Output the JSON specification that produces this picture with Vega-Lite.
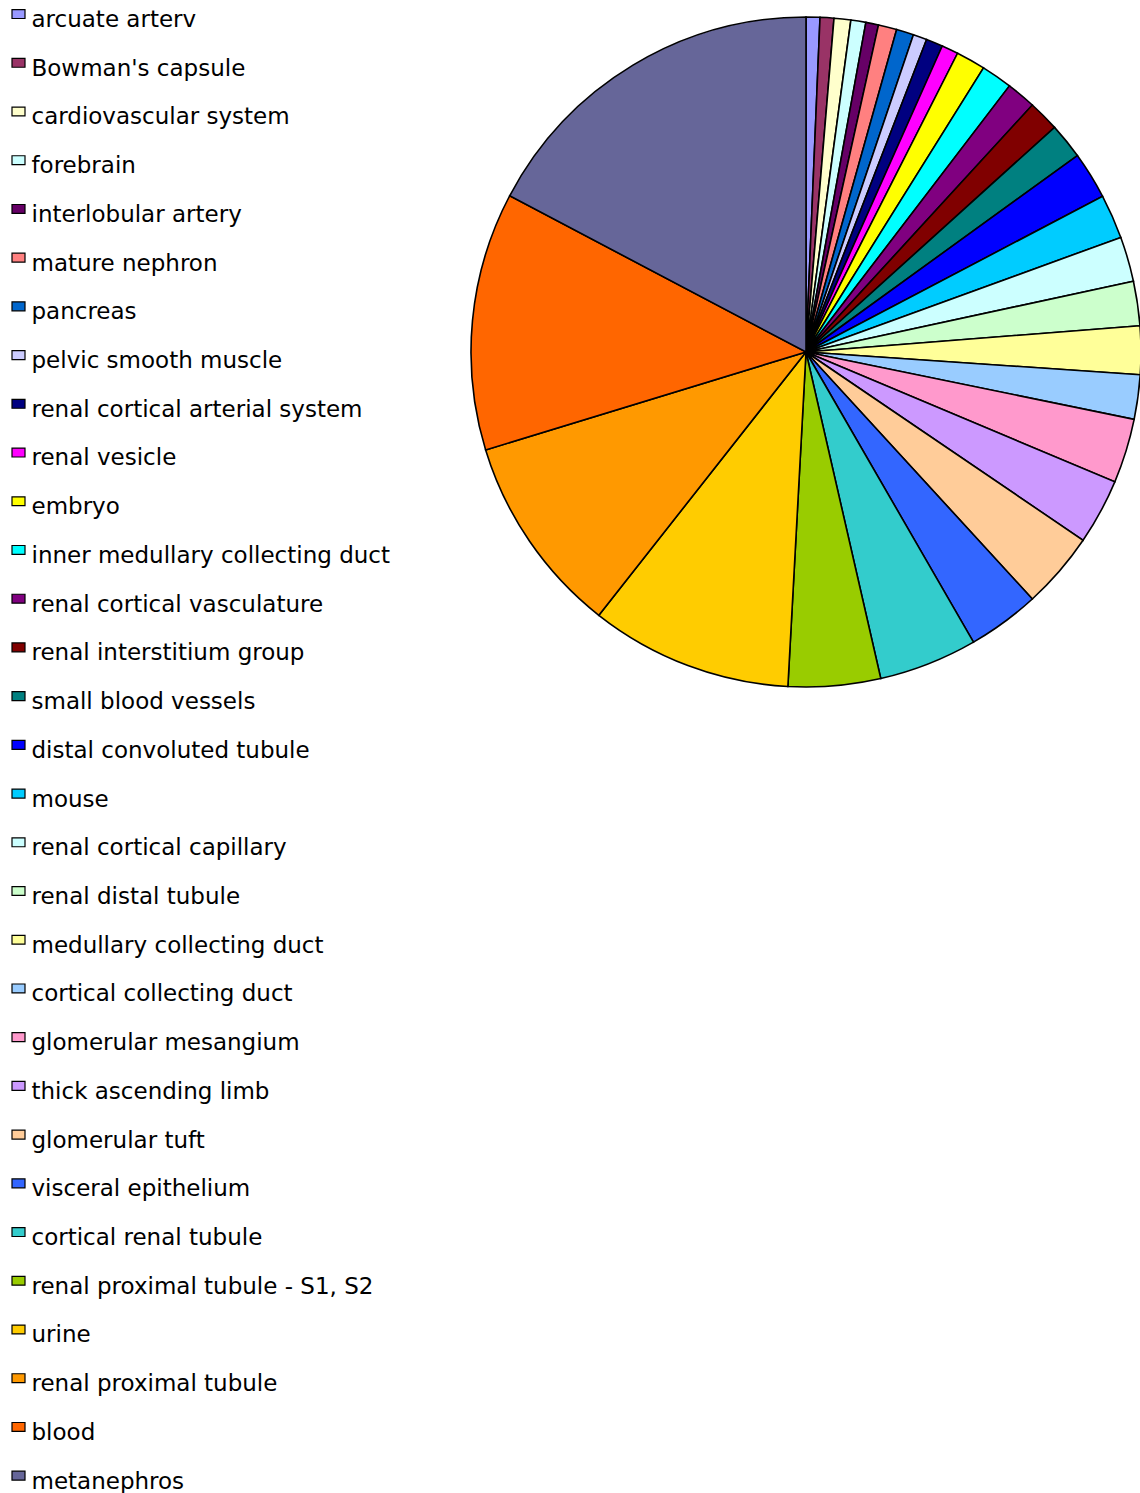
{
  "$schema": "https://vega.github.io/schema/vega-lite/v6.json",
  "width": 670,
  "height": 670,
  "autosize": {"type": "none"},
  "padding": {"left": 471, "top": 17, "right": 0, "bottom": 806},
  "background": "white",
  "view": {"stroke": null},
  "data": {
    "values": [
      {"idx": 1, "name": "arcuate arterv", "value": 2.4},
      {"idx": 2, "name": "Bowman's capsule", "value": 2.4},
      {"idx": 3, "name": "cardiovascular system", "value": 2.9},
      {"idx": 4, "name": "forebrain", "value": 2.6},
      {"idx": 5, "name": "interlobular artery", "value": 2.2},
      {"idx": 6, "name": "mature nephron", "value": 3.2},
      {"idx": 7, "name": "pancreas", "value": 3.0},
      {"idx": 8, "name": "pelvic smooth muscle", "value": 2.4},
      {"idx": 9, "name": "renal cortical arterial system", "value": 2.9},
      {"idx": 10, "name": "renal vesicle", "value": 2.9},
      {"idx": 11, "name": "embryo", "value": 5.1},
      {"idx": 12, "name": "inner medullary collecting duct", "value": 5.4},
      {"idx": 13, "name": "renal cortical vasculature", "value": 5.1},
      {"idx": 14, "name": "renal interstitium group", "value": 5.4},
      {"idx": 15, "name": "small blood vessels", "value": 6.2},
      {"idx": 16, "name": "distal convoluted tubule", "value": 8.2},
      {"idx": 17, "name": "mouse", "value": 7.7},
      {"idx": 18, "name": "renal cortical capillary", "value": 7.8},
      {"idx": 19, "name": "renal distal tubule", "value": 7.7},
      {"idx": 20, "name": "medullary collecting duct", "value": 8.4},
      {"idx": 21, "name": "cortical collecting duct", "value": 7.7},
      {"idx": 22, "name": "glomerular mesangium", "value": 11.2},
      {"idx": 23, "name": "thick ascending limb", "value": 11.4},
      {"idx": 24, "name": "glomerular tuft", "value": 13.3},
      {"idx": 25, "name": "visceral epithelium", "value": 12.5},
      {"idx": 26, "name": "cortical renal tubule", "value": 17.1},
      {"idx": 27, "name": "renal proximal tubule - S1, S2", "value": 16.0},
      {"idx": 28, "name": "urine", "value": 35.1},
      {"idx": 29, "name": "renal proximal tubule", "value": 34.8},
      {"idx": 30, "name": "blood", "value": 44.8},
      {"idx": 31, "name": "metanephros", "value": 62.2}
    ]
  },
  "mark": {"type": "arc", "stroke": "black", "strokeWidth": 1.6},
  "encoding": {
    "theta": {"field": "value", "type": "quantitative", "stack": true},
    "order": {"field": "idx", "type": "quantitative"},
    "color": {
      "field": "name",
      "type": "nominal",
      "scale": {
        "domain": ["arcuate arterv", "Bowman's capsule", "cardiovascular system", "forebrain", "interlobular artery", "mature nephron", "pancreas", "pelvic smooth muscle", "renal cortical arterial system", "renal vesicle", "embryo", "inner medullary collecting duct", "renal cortical vasculature", "renal interstitium group", "small blood vessels", "distal convoluted tubule", "mouse", "renal cortical capillary", "renal distal tubule", "medullary collecting duct", "cortical collecting duct", "glomerular mesangium", "thick ascending limb", "glomerular tuft", "visceral epithelium", "cortical renal tubule", "renal proximal tubule - S1, S2", "urine", "renal proximal tubule", "blood", "metanephros"],
        "range": ["#9999FF", "#993366", "#FFFFCC", "#CCFFFF", "#660066", "#FF8080", "#0066CC", "#CCCCFF", "#000080", "#FF00FF", "#FFFF00", "#00FFFF", "#800080", "#800000", "#008080", "#0000FF", "#00CCFF", "#CCFFFF", "#CCFFCC", "#FFFF99", "#99CCFF", "#FF99CC", "#CC99FF", "#FFCC99", "#3366FF", "#33CCCC", "#99CC00", "#FFCC00", "#FF9900", "#FF6600", "#666699"]
      },
      "legend": {
        "orient": "none",
        "legendX": -464,
        "legendY": -8.5,
        "title": null,
        "padding": 0,
        "symbolType": "M-1,-1.6H1V-0.23H-1Z",
        "symbolSize": 169,
        "symbolStrokeColor": "black",
        "symbolStrokeWidth": 1.2,
        "symbolOpacity": 1,
        "symbolLimit": 40,
        "labelFont": "DejaVu Sans",
        "labelFontSize": 23,
        "labelColor": "black",
        "labelLimit": 600,
        "labelOffset": 1.5,
        "rowPadding": 22.72
      }
    }
  }
}
